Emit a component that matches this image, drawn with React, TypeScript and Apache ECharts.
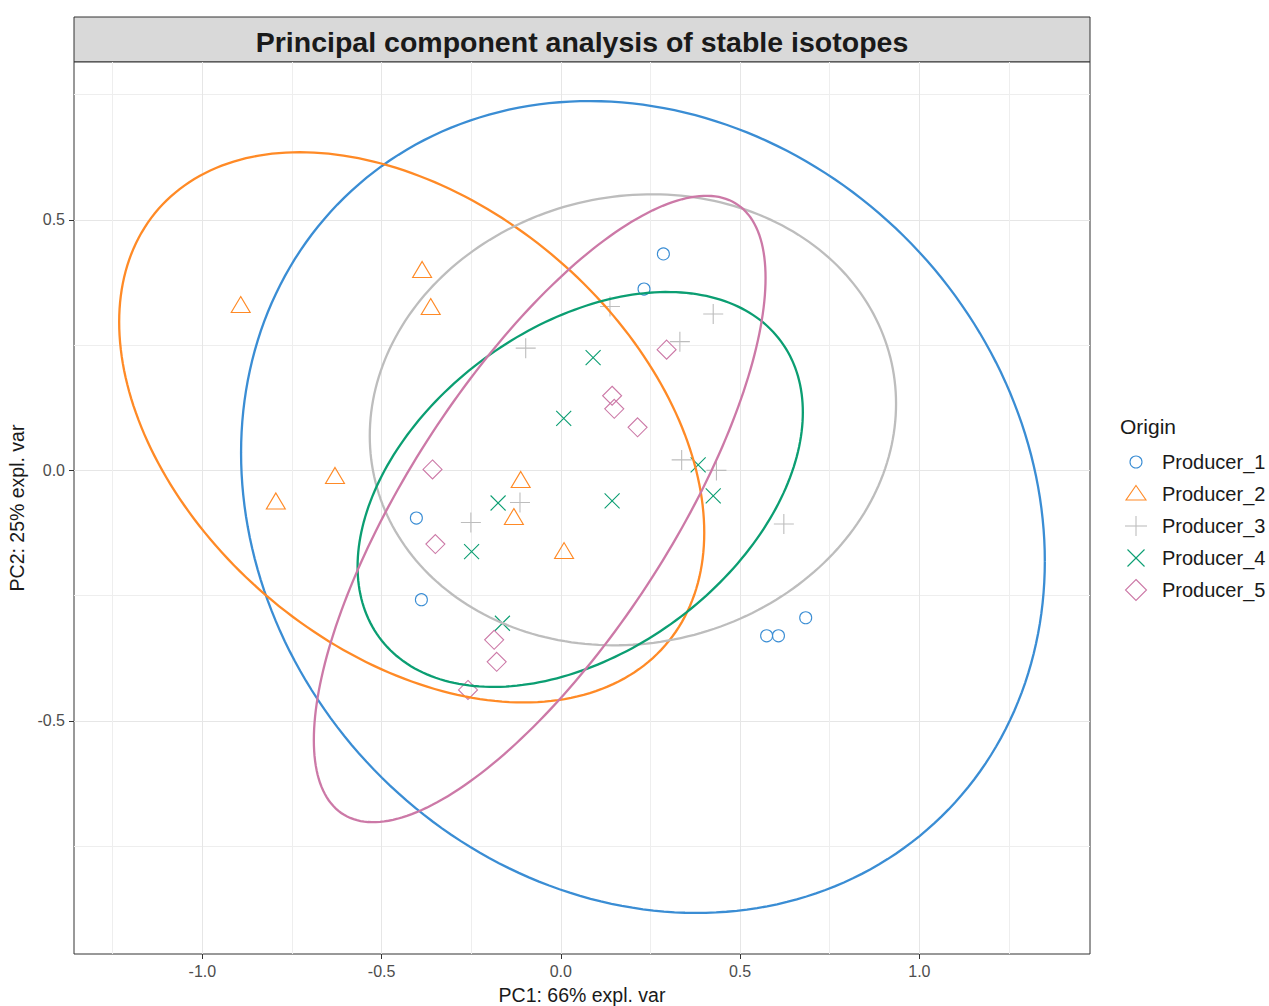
import React, { useEffect, useRef } from 'react';
import * as echarts from 'echarts';

// Groups, their colours and point symbols
const producers = ['Producer_1', 'Producer_2', 'Producer_3', 'Producer_4', 'Producer_5'];
const groupColors = ['#3a8dd4', '#ff8a26', '#bdbdbd', '#0b9e72', '#cc79a7'];

// PCA scores (PC1, PC2) per producer
const producer1PC1 = [0.286, 0.232, -0.403, -0.389, 0.574, 0.607, 0.683];
const producer1PC2 = [0.432, 0.362, -0.095, -0.258, -0.330, -0.330, -0.294];

const producer2PC1 = [-0.893, -0.387, -0.363, -0.630, -0.795, -0.112, -0.131, 0.009];
const producer2PC2 = [0.326, 0.396, 0.322, -0.015, -0.066, -0.023, -0.097, -0.165];

const producer3PC1 = [-0.098, 0.137, 0.425, 0.332, 0.337, 0.434, -0.114, -0.251, 0.622];
const producer3PC2 = [0.244, 0.327, 0.312, 0.257, 0.021, 0.000, -0.064, -0.104, -0.107];

const producer4PC1 = [0.090, 0.008, 0.383, -0.175, -0.249, 0.143, 0.425, -0.163];
const producer4PC2 = [0.225, 0.104, 0.011, -0.065, -0.162, -0.061, -0.051, -0.305];

const producer5PC1 = [0.295, 0.143, 0.149, 0.214, -0.358, -0.350, -0.186, -0.179, -0.259];
const producer5PC2 = [0.241, 0.149, 0.123, 0.086, 0.002, -0.147, -0.338, -0.382, -0.438];

const pc1 = [producer1PC1, producer2PC1, producer3PC1, producer4PC1, producer5PC1];
const pc2 = [producer1PC2, producer2PC2, producer3PC2, producer4PC2, producer5PC2];

// Confidence ellipses in data units: centre, half-width, half-height and
// the PC2 offset of the ellipse's rightmost point (its tilt)
const ellipseCenterX = [0.229, -0.416, 0.201, 0.054, -0.059];
const ellipseCenterY = [-0.073, 0.086, 0.101, -0.038, -0.077];
const ellipseHalfWidth = [1.121, 0.816, 0.734, 0.621, 0.630];
const ellipseHalfHeight = [0.810, 0.549, 0.450, 0.394, 0.625];
const ellipseTilt = [-0.108, -0.210, 0.032, 0.154, 0.461];

// Axis ranges and tick values
const xRange = [-1.358, 1.476];
const yRange = [-0.965, 0.815];
const xMajorTicks = [-1, -0.5, 0, 0.5, 1];
const xMinorTicks = [-1.25, -0.75, -0.25, 0.25, 0.75, 1.25];
const yMajorTicks = [-0.5, 0, 0.5];
const yMinorTicks = [-0.75, -0.25, 0.25, 0.75];

const FONT = 'Liberation Sans';

const pointSymbols = [
  'circle',
  'triangle',
  'path://M0,10L20,10M10,0L10,20',
  'path://M0,0L20,20M20,0L0,20',
  'diamond',
];
const pointSizes: any[] = [12, [19, 16], 20, 15, 19];
const pointOffsets: any[] = [[0, 0], [0, -2.5], [0, 0], [0, 0], [0, 0]];

function legendKey(i: number, cx: number, cy: number, color: string): any {
  const style = { fill: 'none', stroke: color, lineWidth: 1.1 };
  if (i === 0) return { type: 'circle', shape: { cx, cy, r: 6 }, style };
  if (i === 1)
    return { type: 'polygon', shape: { points: [[cx, cy - 8.5], [cx + 10, cy + 6], [cx - 10, cy + 6]] }, style };
  if (i === 2)
    return {
      type: 'group',
      children: [
        { type: 'line', shape: { x1: cx - 11, y1: cy, x2: cx + 11, y2: cy }, style },
        { type: 'line', shape: { x1: cx, y1: cy - 10, x2: cx, y2: cy + 10 }, style },
      ],
    };
  if (i === 3)
    return {
      type: 'group',
      children: [
        { type: 'line', shape: { x1: cx - 8.5, y1: cy - 8.5, x2: cx + 8.5, y2: cy + 8.5 }, style },
        { type: 'line', shape: { x1: cx + 8.5, y1: cy - 8.5, x2: cx - 8.5, y2: cy + 8.5 }, style },
      ],
    };
  return {
    type: 'polygon',
    shape: { points: [[cx, cy - 10.5], [cx + 10.5, cy], [cx, cy + 10.5], [cx - 10.5, cy]] },
    style,
  };
}

export default function App() {
  const ref = useRef<HTMLDivElement>(null);

  useEffect(() => {
    if (!ref.current) return;
    const chart = echarts.init(ref.current, undefined, { renderer: 'svg' });

    const scatterSeries = producers.map((name, i) => ({
      type: 'scatter',
      name,
      xAxisIndex: 0,
      yAxisIndex: 0,
      data: pc1[i].map((x, j) => [x, pc2[i][j]]),
      symbol: pointSymbols[i],
      symbolSize: pointSizes[i],
      symbolOffset: pointOffsets[i],
      itemStyle: { color: 'rgba(0,0,0,0)', borderColor: groupColors[i], borderWidth: 1.1, opacity: 1 },
      emphasis: { disabled: true },
      z: 2,
    }));

    const ellipseSeries = producers.map((name, i) => ({
      type: 'custom',
      name: name + ' ellipse',
      xAxisIndex: 0,
      yAxisIndex: 0,
      z: 3,
      encode: { x: 0, y: 1 },
      data: [[ellipseCenterX[i], ellipseCenterY[i], ellipseHalfWidth[i], ellipseHalfHeight[i], ellipseTilt[i]]],
      renderItem: (params: any, api: any) => {
        const cx = api.value(0);
        const cy = api.value(1);
        const rx = api.value(2);
        const ry = api.value(3);
        const tilt = api.value(4);
        const k = Math.sqrt(Math.max(ry * ry - tilt * tilt, 0));
        const pts: number[][] = [];
        const steps = 240;
        for (let s = 0; s <= steps; s++) {
          const t = (s / steps) * Math.PI * 2;
          pts.push(api.coord([cx + rx * Math.cos(t), cy + tilt * Math.cos(t) + k * Math.sin(t)]));
        }
        return {
          type: 'polyline',
          shape: { points: pts },
          style: { fill: 'none', stroke: groupColors[i], lineWidth: 2.3 },
        };
      },
    }));

    const legendItems: any[] = [
      {
        type: 'text',
        x: 1120,
        y: 426,
        style: { text: 'Origin', fontSize: 21, fontFamily: FONT, fill: '#1a1a1a', verticalAlign: 'middle', align: 'left' },
      },
    ];
    producers.forEach((name, i) => {
      const cy = 462 + 32 * i;
      legendItems.push(legendKey(i, 1136, cy, groupColors[i]));
      legendItems.push({
        type: 'text',
        x: 1162,
        y: cy,
        style: { text: name, fontSize: 20, fontFamily: FONT, fill: '#1a1a1a', verticalAlign: 'middle', align: 'left' },
      });
    });

    const tickFmt = (v: number) => v.toFixed(1);

    chart.setOption({
      animation: false,
      backgroundColor: '#ffffff',
      title: {
        text: 'Principal component analysis of stable isotopes',
        left: 582,
        top: 27,
        padding: 0,
        textAlign: 'center',
        textStyle: { fontSize: 28.5, fontWeight: 'bold', fontFamily: FONT, color: '#1a1a1a' },
      },
      grid: {
        left: 74,
        top: 62,
        width: 1016,
        height: 892,
        show: true,
        borderColor: '#333333',
        borderWidth: 1,
        backgroundColor: '#ffffff',
        containLabel: false,
        outerBoundsMode: 'none',
      },
      xAxis: [
        {
          type: 'value',
          min: xRange[0],
          max: xRange[1],
          position: 'bottom',
          axisLine: { show: false, onZero: false },
          axisTick: { show: true, customValues: xMajorTicks, length: 5, lineStyle: { color: '#333333' } },
          axisLabel: { customValues: xMajorTicks, formatter: tickFmt, color: '#4d4d4d', fontSize: 16, fontFamily: FONT, margin: 9 },
          splitLine: { show: true, lineStyle: { color: '#e6e6e6', width: 1 } },
          name: 'PC1: 66% expl. var',
          nameLocation: 'middle',
          nameGap: 31,
          nameTextStyle: { fontSize: 19.5, fontFamily: FONT, color: '#1a1a1a' },
        },
        {
          type: 'value',
          min: xRange[0],
          max: xRange[1],
          position: 'top',
          axisLine: { show: false, onZero: false },
          axisTick: { show: false, customValues: xMinorTicks },
          axisLabel: { show: false, customValues: xMinorTicks },
          splitLine: { show: true, lineStyle: { color: '#eeeeee', width: 1 } },
        },
      ],
      yAxis: [
        {
          type: 'value',
          min: yRange[0],
          max: yRange[1],
          position: 'left',
          axisLine: { show: false, onZero: false },
          axisTick: { show: true, customValues: yMajorTicks, length: 5, lineStyle: { color: '#333333' } },
          axisLabel: { customValues: yMajorTicks, formatter: tickFmt, color: '#4d4d4d', fontSize: 16, fontFamily: FONT, margin: 9 },
          splitLine: { show: true, lineStyle: { color: '#e6e6e6', width: 1 } },
          name: 'PC2: 25% expl. var',
          nameLocation: 'middle',
          nameGap: 39,
          nameTextStyle: { fontSize: 19.5, fontFamily: FONT, color: '#1a1a1a' },
        },
        {
          type: 'value',
          min: yRange[0],
          max: yRange[1],
          position: 'right',
          axisLine: { show: false, onZero: false },
          axisTick: { show: false, customValues: yMinorTicks },
          axisLabel: { show: false, customValues: yMinorTicks },
          splitLine: { show: true, lineStyle: { color: '#eeeeee', width: 1 } },
        },
      ],
      graphic: [
        {
          type: 'rect',
          shape: { x: 74, y: 17, width: 1016, height: 45 },
          style: { fill: '#d9d9d9', stroke: '#333333', lineWidth: 1 },
          z: -1,
        },
        ...legendItems,
      ],
      series: [...scatterSeries, ...ellipseSeries],
    });

    return () => chart.dispose();
  }, []);

  return (
    <div
      ref={ref}
      style={{ position: 'fixed', left: 0, top: 0, width: 1269, height: 1006, background: '#fff' }}
    />
  );
}
